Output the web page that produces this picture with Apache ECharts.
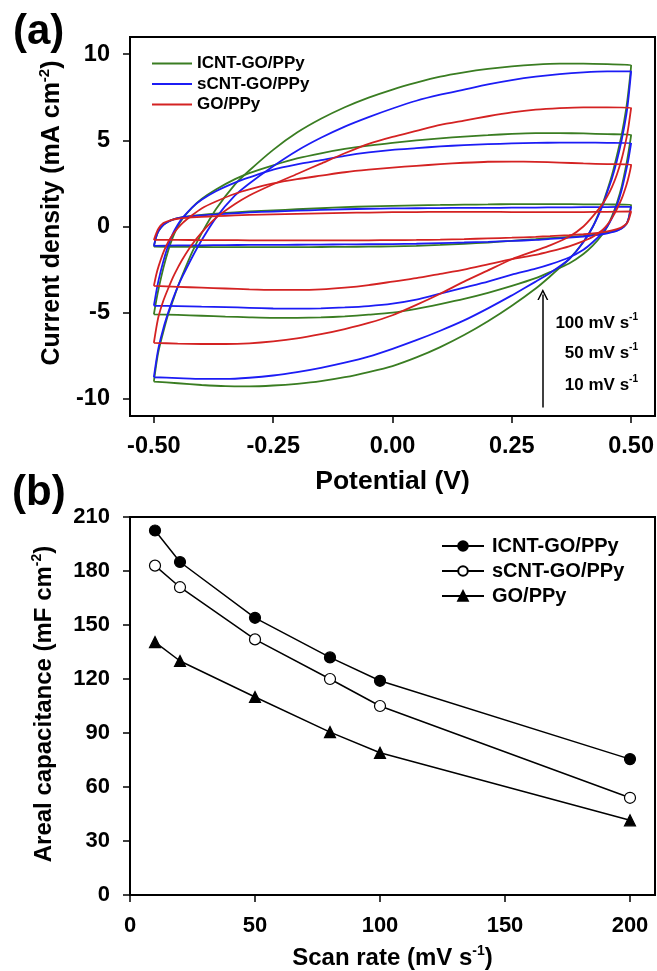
<!DOCTYPE html>
<html>
<head>
<meta charset="utf-8">
<script src="https://cdn.jsdelivr.net/npm/echarts@6/dist/echarts.min.js"></script>
<style>
  html, body { margin: 0; padding: 0; background: #fff; }
  #chart { width: 657px; height: 971px; }
</style>
</head>
<body>
<div id="chart"></div>
<script>
// ---- (a) cyclic voltammograms ----
// potential of the forward sweep and of the reverse sweep (V)
const V_FWD = [-0.5, -0.495, -0.49, -0.48, -0.47, -0.46, -0.45, -0.44, -0.42, -0.4, -0.37, -0.33, -0.3, -0.25, -0.2, -0.15, -0.1, -0.05, 0, 0.05, 0.1, 0.15, 0.2, 0.25, 0.3, 0.35, 0.4, 0.45, 0.5]
const V_REV = [0.5, 0.495, 0.49, 0.48, 0.47, 0.46, 0.45, 0.44, 0.42, 0.4, 0.37, 0.33, 0.3, 0.25, 0.2, 0.15, 0.1, 0.05, 0, -0.05, -0.1, -0.15, -0.2, -0.25, -0.3, -0.35, -0.4, -0.45, -0.5]

// current density (mA cm-2)
const ICNT_100_FWD = [-9.0, -8.0, -7.2, -6.1, -5.1, -4.3, -3.5, -2.8, -1.5, -0.4, 1.0, 2.45, 3.25, 4.45, 5.45, 6.25, 6.92, 7.48, 7.95, 8.35, 8.7, 8.95, 9.15, 9.3, 9.4, 9.45, 9.45, 9.42, 9.36]
const ICNT_100_REV = [9.36, 8.0, 6.9, 5.3, 4.1, 3.0, 2.1, 1.3, 0.0, -0.9, -1.9, -2.9, -3.6, -4.6, -5.5, -6.3, -7.0, -7.6, -8.1, -8.45, -8.75, -8.98, -9.13, -9.23, -9.28, -9.27, -9.2, -9.1, -9.0]
const ICNT_50_FWD = [-5.1, -4.3, -3.6, -2.4, -1.4, -0.6, 0.0, 0.45, 1.1, 1.6, 2.15, 2.75, 3.1, 3.55, 3.95, 4.25, 4.5, 4.7, 4.85, 5.0, 5.12, 5.22, 5.3, 5.38, 5.42, 5.42, 5.4, 5.36, 5.32]
const ICNT_50_REV = [5.32, 4.4, 3.6, 2.3, 1.35, 0.6, 0.0, -0.45, -1.1, -1.6, -2.15, -2.65, -3.0, -3.45, -3.85, -4.2, -4.5, -4.78, -5.0, -5.12, -5.22, -5.28, -5.3, -5.3, -5.27, -5.23, -5.18, -5.13, -5.1]
const ICNT_10_FWD = [-1.17, -0.6, -0.25, 0.1, 0.28, 0.4, 0.48, 0.54, 0.62, 0.68, 0.75, 0.82, 0.87, 0.94, 1.0, 1.06, 1.12, 1.17, 1.2, 1.23, 1.25, 1.27, 1.28, 1.3, 1.3, 1.3, 1.29, 1.28, 1.26]
const ICNT_10_REV = [1.26, 0.5, 0.15, -0.1, -0.22, -0.3, -0.36, -0.41, -0.48, -0.54, -0.6, -0.68, -0.74, -0.83, -0.93, -1.0, -1.07, -1.12, -1.15, -1.17, -1.18, -1.19, -1.2, -1.2, -1.2, -1.2, -1.19, -1.18, -1.17]

const SCNT_100_FWD = [-8.75, -7.8, -7.0, -5.9, -5.0, -4.2, -3.5, -2.9, -1.8, -0.8, 0.5, 1.8, 2.5, 3.5, 4.4, 5.15, 5.8, 6.35, 6.85, 7.3, 7.65, 7.95, 8.25, 8.5, 8.7, 8.85, 8.95, 9.0, 9.0]
const SCNT_100_REV = [9.0, 7.6, 6.5, 5.0, 3.8, 2.8, 2.0, 1.2, 0.0, -0.9, -1.9, -2.7, -3.2, -4.0, -4.75, -5.45, -6.05, -6.6, -7.1, -7.55, -7.9, -8.2, -8.45, -8.65, -8.78, -8.85, -8.85, -8.8, -8.75]
const SCNT_50_FWD = [-4.6, -3.8, -3.1, -2.0, -1.1, -0.4, 0.1, 0.5, 1.1, 1.55, 2.05, 2.55, 2.85, 3.3, 3.6, 3.85, 4.1, 4.3, 4.45, 4.55, 4.65, 4.72, 4.78, 4.82, 4.85, 4.87, 4.87, 4.86, 4.84]
const SCNT_50_REV = [4.84, 4.0, 3.3, 2.1, 1.2, 0.5, 0.0, -0.35, -0.9, -1.35, -1.8, -2.2, -2.45, -2.8, -3.2, -3.55, -3.9, -4.25, -4.48, -4.62, -4.7, -4.75, -4.77, -4.76, -4.72, -4.68, -4.65, -4.62, -4.6]
const SCNT_10_FWD = [-1.12, -0.6, -0.25, 0.1, 0.28, 0.4, 0.48, 0.54, 0.6, 0.65, 0.7, 0.77, 0.82, 0.87, 0.92, 0.96, 1.0, 1.03, 1.05, 1.06, 1.07, 1.08, 1.08, 1.09, 1.1, 1.11, 1.12, 1.13, 1.14]
const SCNT_10_REV = [1.14, 0.5, 0.15, -0.12, -0.25, -0.33, -0.4, -0.45, -0.52, -0.58, -0.65, -0.72, -0.78, -0.84, -0.89, -0.93, -0.96, -1.0, -1.02, -1.03, -1.04, -1.05, -1.06, -1.07, -1.07, -1.08, -1.09, -1.1, -1.12]

const GO_100_FWD = [-6.75, -5.9, -5.2, -4.3, -3.6, -2.95, -2.4, -1.9, -1.05, -0.35, 0.5, 1.3, 1.8, 2.45, 3.05, 3.65, 4.25, 4.8, 5.2, 5.55, 5.9, 6.15, 6.4, 6.62, 6.78, 6.87, 6.92, 6.92, 6.89]
const GO_100_REV = [6.89, 5.9, 5.1, 3.9, 3.0, 2.3, 1.75, 1.3, 0.6, 0.0, -0.6, -1.1, -1.4, -1.9, -2.55, -3.2, -3.9, -4.55, -5.15, -5.6, -5.95, -6.25, -6.5, -6.67, -6.78, -6.82, -6.82, -6.8, -6.75]
const GO_50_FWD = [-3.45, -2.8, -2.3, -1.5, -0.9, -0.45, -0.1, 0.2, 0.65, 1.05, 1.45, 1.9, 2.15, 2.5, 2.75, 2.95, 3.15, 3.3, 3.42, 3.52, 3.62, 3.7, 3.76, 3.77, 3.75, 3.71, 3.66, 3.62, 3.59]
const GO_50_REV = [3.59, 2.9, 2.4, 1.6, 1.0, 0.5, 0.1, -0.2, -0.6, -0.85, -1.15, -1.45, -1.65, -1.9, -2.2, -2.5, -2.75, -3.0, -3.2, -3.4, -3.55, -3.65, -3.68, -3.68, -3.65, -3.6, -3.55, -3.5, -3.45]
const GO_10_FWD = [-0.78, -0.4, -0.1, 0.2, 0.32, 0.4, 0.45, 0.49, 0.53, 0.56, 0.6, 0.64, 0.67, 0.7, 0.73, 0.76, 0.79, 0.81, 0.83, 0.84, 0.85, 0.85, 0.85, 0.84, 0.83, 0.83, 0.84, 0.85, 0.87]
const GO_10_REV = [0.87, 0.4, 0.15, -0.05, -0.15, -0.22, -0.28, -0.33, -0.4, -0.45, -0.5, -0.56, -0.6, -0.65, -0.69, -0.73, -0.76, -0.78, -0.79, -0.8, -0.8, -0.8, -0.8, -0.8, -0.8, -0.79, -0.79, -0.78, -0.78]

const POT_TICKS = [-0.5, -0.25, 0, 0.25, 0.5]
const CUR_TICKS = [-10, -5, 0, 5, 10]
const RATE_LABELS = ['100 mV s', '50 mV s', '10 mV s']

// ---- (b) areal capacitance vs scan rate ----
const SCAN_RATE = [10, 20, 50, 80, 100, 200]
const ICNT_CAP = [202.5, 185, 154, 132, 119, 75.5]
const SCNT_CAP = [183, 171, 142, 120, 105, 54]
const GO_CAP = [140.5, 130, 110, 90.5, 79, 41.5]
const RATE_TICKS = [0, 50, 100, 150, 200]

const NAMES = ['ICNT-GO/PPy', 'sCNT-GO/PPy', 'GO/PPy']
const GREEN = '#3a7d22', BLUE = '#1c1cf5', RED = '#d42222'
const FONT = '"Liberation Sans", Arial, sans-serif'

function loop(fwd, rev) {
  return V_FWD.map((v, i) => [v, fwd[i]]).concat(V_REV.map((v, i) => [v, rev[i]]))
}

const cvGroups = [
  [NAMES[0], GREEN, [[ICNT_10_FWD, ICNT_10_REV], [ICNT_50_FWD, ICNT_50_REV], [ICNT_100_FWD, ICNT_100_REV]]],
  [NAMES[1], BLUE, [[SCNT_10_FWD, SCNT_10_REV], [SCNT_50_FWD, SCNT_50_REV], [SCNT_100_FWD, SCNT_100_REV]]],
  [NAMES[2], RED, [[GO_10_FWD, GO_10_REV], [GO_50_FWD, GO_50_REV], [GO_100_FWD, GO_100_REV]]]
]

const series = []
cvGroups.forEach(g => {
  g[2].forEach(pair => {
    series.push({
      name: g[0], type: 'line', xAxisIndex: 0, yAxisIndex: 0,
      data: loop(pair[0], pair[1]),
      symbol: 'none', smooth: 0.2, smoothMonotone: null,
      lineStyle: { color: g[1], width: 1.8 }, itemStyle: { color: g[1] },
      z: 3
    })
  })
})
// scan direction arrow (open head)
series[0].markLine = {
  silent: true, symbol: ['none', 'path://M5,0 L10,12 L8.6,12 L5,3.4 L1.4,12 L0,12 Z'], symbolSize: 11,
  label: { show: false },
  lineStyle: { color: '#000', width: 1.5, type: 'solid' },
  data: [[{ coord: [0.315, -10.5] }, { coord: [0.315, -3.95] }]]
}

const capSets = [
  ['b:' + NAMES[0], ICNT_CAP, 'circle', '#000'],
  ['b:' + NAMES[1], SCNT_CAP, 'circle', '#fff'],
  ['b:' + NAMES[2], GO_CAP, 'triangle', '#000']
]
capSets.forEach(c => {
  series.push({
    name: c[0], type: 'line', xAxisIndex: 1, yAxisIndex: 1,
    data: SCAN_RATE.map((x, i) => [x, c[1][i]]),
    symbol: c[2], symbolSize: 11, showSymbol: true,
    lineStyle: { color: '#000', width: 1.5 },
    itemStyle: { color: c[3], borderColor: '#000', borderWidth: 1.2 }
  })
})

const tickA = { color: '#000', fontSize: 23.5, fontWeight: 'bold', fontFamily: FONT }
const tickB = { color: '#000', fontSize: 22, fontWeight: 'bold', fontFamily: FONT }
function supRich(size) {
  return {
    m: { fontSize: size, fontWeight: 'bold', fontFamily: FONT, color: '#000', lineHeight: size + 4 },
    s: { fontSize: Math.round(size * 0.6), fontWeight: 'bold', fontFamily: FONT, color: '#000', lineHeight: Math.round(size * 0.6), verticalAlign: 'top' }
  }
}

function valueAxis(opt) {
  return Object.assign({
    type: 'value',
    axisLine: { show: true, onZero: false, lineStyle: { color: '#000', width: 2 } },
    axisTick: { show: true, length: 7, lineStyle: { color: '#000', width: 1.5 } },
    splitLine: { show: false },
    axisLabel: Object.assign({ margin: 20 }, tickB)
  }, opt)
}

const option = {
  animation: false,
  backgroundColor: '#fff',
  grid: [
    { left: 130, right: 2, top: 37, height: 379, show: true, borderColor: '#000', borderWidth: 2 },
    { left: 130, right: 2, top: 517, height: 378, show: true, borderColor: '#000', borderWidth: 2 }
  ],
  xAxis: [
    valueAxis({
      gridIndex: 0, min: -0.55, max: 0.55,
      axisTick: { show: true, length: 7, customValues: POT_TICKS, lineStyle: { color: '#000', width: 1.5 } },
      axisLabel: Object.assign({ margin: 19, customValues: POT_TICKS, formatter: v => v.toFixed(2) }, tickA),
      name: 'Potential (V)', nameLocation: 'middle', nameGap: 51,
      nameTextStyle: { fontSize: 26.5, fontWeight: 'bold', fontFamily: FONT, color: '#000', lineHeight: 30 }
    }),
    valueAxis({
      gridIndex: 1, min: 0, max: 210,
      axisTick: { show: true, length: 7, customValues: RATE_TICKS, lineStyle: { color: '#000', width: 1.5 } },
      axisLabel: Object.assign({ margin: 20, customValues: RATE_TICKS }, tickB),
      name: '{m|Scan rate (mV s}{s|-1}{m|)}', nameLocation: 'middle', nameGap: 49,
      nameTextStyle: { rich: supRich(24) }
    })
  ],
  yAxis: [
    valueAxis({
      gridIndex: 0, min: -11, max: 11,
      axisTick: { show: true, length: 7, customValues: CUR_TICKS, lineStyle: { color: '#000', width: 1.5 } },
      axisLabel: Object.assign({ margin: 20, customValues: CUR_TICKS }, tickA)
    }),
    valueAxis({ gridIndex: 1, min: 0, max: 210, interval: 30 })
  ],
  legend: [
    {
      data: NAMES, orient: 'vertical', left: 147, top: 50, itemWidth: 40, itemHeight: 2, itemGap: 3.5,
      icon: 'rect',
      textStyle: { fontSize: 17, fontWeight: 'bold', fontFamily: FONT, color: '#000', padding: [0, 0, 0, 0] },
      selectedMode: false
    },
    {
      data: NAMES.map(n => 'b:' + n), formatter: n => n.slice(2),
      orient: 'vertical', left: 436, top: 531, itemWidth: 42, itemHeight: 12, itemGap: 5,
      textStyle: { fontSize: 20, fontWeight: 'bold', fontFamily: FONT, color: '#000', padding: [0, 0, 0, 3] },
      selectedMode: false
    }
  ],
  graphic: [
    { type: 'text', x: 13, y: 32, style: { text: '(a)', fontSize: 42, fontWeight: 'bold', fontFamily: FONT, fill: '#000', align: 'left', verticalAlign: 'middle' } },
    { type: 'text', x: 12, y: 493, style: { text: '(b)', fontSize: 42, fontWeight: 'bold', fontFamily: FONT, fill: '#000', align: 'left', verticalAlign: 'middle' } },
    { type: 'text', x: 52, y: 213, rotation: Math.PI / 2, style: { text: '{m|Current density (mA cm}{s|-2}{m|)}', rich: supRich(25), align: 'center', verticalAlign: 'middle' } },
    { type: 'text', x: 44, y: 704, rotation: Math.PI / 2, style: { text: '{m|Areal capacitance (mF cm}{s|-2}{m|)}', rich: supRich(24), align: 'center', verticalAlign: 'middle' } }
  ].concat(RATE_LABELS.map((t, i) => ({
    type: 'text', x: 638, y: [323, 353, 385][i],
    style: { text: '{m|' + t + '}{s|-1}', rich: supRich(17), align: 'right', verticalAlign: 'middle' }
  }))),
  series: series
}

const chart = echarts.init(document.getElementById('chart'), null, { renderer: 'canvas' })
chart.setOption(option)
</script>
</body>
</html>
